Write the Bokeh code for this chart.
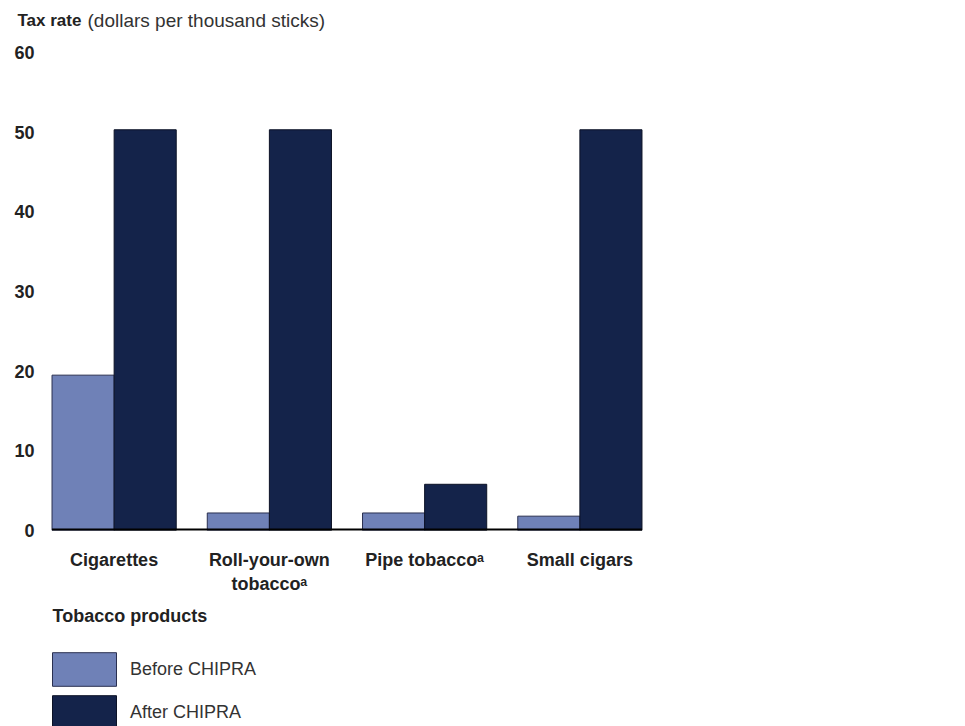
from bokeh.plotting import figure
from bokeh.layouts import column
from bokeh.models import Legend, LegendItem, Label, FixedTicker, ColumnDataSource, Range1d
from bokeh.embed import file_html
from bokeh.resources import INLINE

categories = ["Cigarettes", "Roll-your-own\ntobaccoᵃ", "Pipe tobaccoᵃ", "Small cigars"]
before = [19.5, 2.2, 2.2, 1.8]
after = [50.3, 50.3, 5.8, 50.3]
y_ticks = [0, 10, 20, 30, 40, 50, 60]
series_names = ["Before CHIPRA", "After CHIPRA"]
y_title_bold = "Tax rate"
y_title_rest = "(dollars per thousand sticks)"
legend_title = "Tobacco products"

BEFORE_C = "#6f81b7"
AFTER_C = "#14234a"
BEFORE_LINE = "#2a3050"
AFTER_LINE = "#0c1226"
FONT = "Liberation Sans"
W = 965


def bare_figure(height):
    fig = figure(width=W, height=height, x_range=Range1d(0, 1), y_range=Range1d(0, 1),
                 output_backend="svg", toolbar_location=None,
                 x_axis_location=None, y_axis_location=None, frame_align=False,
                 min_border_left=0, min_border_right=0, min_border_top=0, min_border_bottom=0)
    fig.outline_line_color = None
    fig.grid.visible = False
    fig.background_fill_color = "white"
    fig.border_fill_color = "white"
    return fig


# ---- header with the axis title ----
head = bare_figure(40)
head.add_layout(Label(x=17, y=20, x_units="screen", y_units="screen", text=y_title_bold,
                      text_font=FONT, text_font_style="bold", text_font_size="17px",
                      text_color="#222222", text_baseline="middle"))
head.add_layout(Label(x=87, y=20, x_units="screen", y_units="screen", text=y_title_rest,
                      text_font=FONT, text_font_size="19px", text_color="#333333",
                      text_baseline="middle"))

# ---- main chart ----
idx = list(range(len(categories)))
bw = 0.4
x_before = [i - bw / 2 for i in idx]
x_after = [i + bw / 2 for i in idx]

p = figure(width=W, height=560, x_range=(-0.5, len(categories) - 0.5), y_range=(0, 60),
           output_backend="svg", toolbar_location=None, frame_align=False,
           min_border_left=36, min_border_right=308, min_border_top=12, min_border_bottom=70)
p.outline_line_color = None
p.xgrid.grid_line_color = None
p.ygrid.grid_line_color = None
p.background_fill_color = "white"
p.border_fill_color = "white"

src_b = ColumnDataSource(dict(x=x_before, top=before))
src_a = ColumnDataSource(dict(x=x_after, top=after))
p.vbar(x="x", top="top", width=bw, bottom=0, source=src_b, fill_color=BEFORE_C,
       line_color=BEFORE_LINE, line_width=1)
p.vbar(x="x", top="top", width=bw, bottom=0, source=src_a, fill_color=AFTER_C,
       line_color=AFTER_LINE, line_width=1)

# baseline along the bars
p.segment(x0=[idx[0] - bw], y0=[0], x1=[idx[-1] + bw], y1=[0], line_color="black", line_width=4)

p.yaxis.ticker = FixedTicker(ticks=y_ticks)
p.yaxis.axis_line_color = None
p.yaxis.major_tick_line_color = None
p.yaxis.major_tick_out = 0
p.yaxis.major_tick_in = 0
p.yaxis.minor_tick_line_color = None
p.yaxis.major_label_text_font = FONT
p.yaxis.major_label_text_font_style = "bold"
p.yaxis.major_label_text_font_size = "18px"
p.yaxis.major_label_text_color = "#222222"
p.yaxis.major_label_standoff = 2

p.xaxis.ticker = FixedTicker(ticks=idx)
p.xaxis.major_label_overrides = {i: c for i, c in zip(idx, categories)}
p.xaxis.axis_line_color = None
p.xaxis.major_tick_line_color = None
p.xaxis.major_tick_out = 0
p.xaxis.major_tick_in = 0
p.xaxis.minor_tick_line_color = None
p.xaxis.major_label_text_font = FONT
p.xaxis.major_label_text_font_style = "bold"
p.xaxis.major_label_text_font_size = "18px"
p.xaxis.major_label_text_color = "#222222"
p.xaxis.major_label_standoff = 19

# ---- legend panel ----
leg = bare_figure(126)
leg.add_layout(Label(x=52, y=111, x_units="screen", y_units="screen", text=legend_title,
                     text_font=FONT, text_font_style="bold", text_font_size="18px",
                     text_color="#222222", text_baseline="middle"))
lb = leg.vbar(x=x_before, top=before, width=bw, fill_color=BEFORE_C,
              line_color=BEFORE_LINE, line_width=1, visible=False)
la = leg.vbar(x=x_after, top=after, width=bw, fill_color=AFTER_C,
              line_color=AFTER_LINE, line_width=1, visible=False)
legend = Legend(items=[LegendItem(label=series_names[0], renderers=[lb]),
                       LegendItem(label=series_names[1], renderers=[la])],
                location=(44, -7),
                glyph_width=80, glyph_height=42, label_standoff=6, spacing=1,
                padding=0, margin=0, border_line_color=None, background_fill_alpha=0,
                inactive_fill_alpha=0,
                label_text_font=FONT, label_text_font_size="18px", label_text_color="#333333")
leg.add_layout(legend)

layout = column(head, p, leg, spacing=0)
open("out.html", "w").write(file_html(layout, INLINE))
